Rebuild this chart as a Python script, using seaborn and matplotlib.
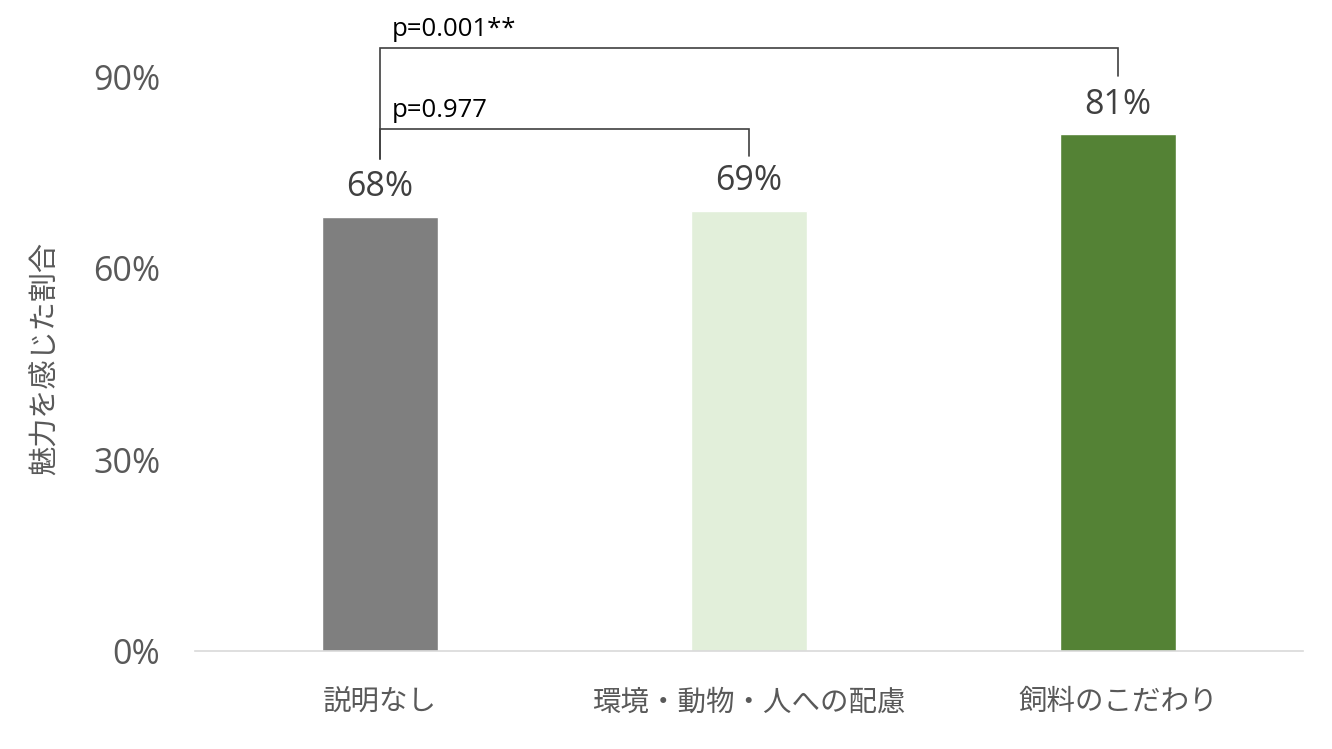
import matplotlib
matplotlib.use("Agg")
import matplotlib.pyplot as plt
import seaborn as sns
import pandas as pd
from matplotlib.ticker import FuncFormatter

categories = ["説明なし", "環境・動物・人への配慮", "飼料のこだわり"]
values = [0.68, 0.69, 0.81]
value_labels = ["68%", "69%", "81%"]
colors = ["#7F7F7F", "#E2EFDA", "#548235"]
y_ticks = [0.0, 0.3, 0.6, 0.9]
y_label = "魅力を感じた割合"
comparisons = [  # (left idx, right idx, bracket y, left leg bottom, right leg bottom, text)
    (0, 2, 0.946, 0.771, 0.901, "p=0.001**"),
    (0, 1, 0.818, 0.771, 0.776, "p=0.977"),
]

sns.set_theme(style="white")
plt.rcParams['font.family'] = ['Noto Sans CJK JP', 'DejaVu Sans']

text_color = "#595959"
num_font = ['Open Sans', 'DejaVu Sans']
df = pd.DataFrame({"cat": categories, "val": values})

fig = plt.figure(figsize=(13.32, 7.49), dpi=100)
ax = fig.add_axes([0.1464, 0.1308, 0.8318, 0.7664])
sns.barplot(data=df, x="cat", y="val", hue="cat", palette=colors, legend=False,
            width=0.314, ax=ax, saturation=1)

ax.set_xlim(-0.5, 2.5)
ax.set_ylim(0, 0.9)
ax.set_yticks(y_ticks)
ax.yaxis.set_major_formatter(FuncFormatter(lambda v, p: f"{v*100:.0f}%"))
ax.tick_params(axis="y", labelsize=24.5, colors=text_color, length=0, pad=25)
for t in ax.get_yticklabels():
    t.set_family(num_font)
ax.tick_params(axis="x", labelsize=20.5, colors=text_color, length=0, pad=26)
ax.set_xlabel("")
ax.set_ylabel(y_label, fontsize=21, color=text_color)
ax.yaxis.set_label_coords(-0.135, 0.51)
ax.yaxis.label.set_verticalalignment("center")
for s in ["top", "right", "left"]:
    ax.spines[s].set_visible(False)
ax.spines["bottom"].set_color("#D9D9D9")
ax.spines["bottom"].set_linewidth(1.2)

for i, (v, lab) in enumerate(zip(values, value_labels)):
    ax.annotate(lab, (i, v), xytext=(0, 15), textcoords="offset points",
                ha="center", va="baseline", fontsize=24.5, color="#404040",
                family=num_font)

for a, b, yb, la, lb, txt in comparisons:
    ax.plot([a, a, b, b], [la, yb, yb, lb], color="#404040", lw=1.2,
            clip_on=False, solid_joinstyle="miter")
    ax.text(a + 0.032, yb + 0.019, txt, fontsize=18.5, color="#000000",
            ha="left", va="baseline", clip_on=False, family=num_font)

fig.savefig("out.png", dpi=100)
